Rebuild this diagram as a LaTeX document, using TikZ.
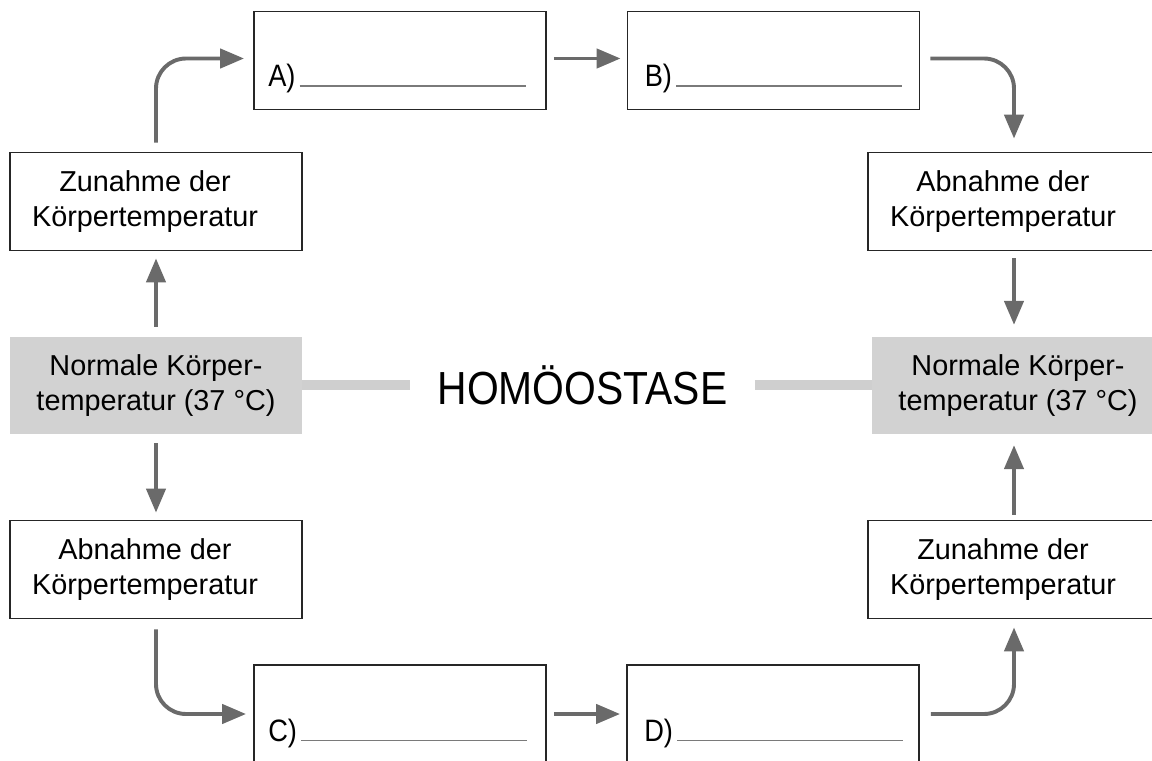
\documentclass[tikz,border=0pt]{standalone}
\usepackage{fontspec}
\setmainfont{Liberation Sans}
\usetikzlibrary{arrows.meta,calc}

\definecolor{pfeilgrau}{HTML}{6A6A6A}
\definecolor{boxgrau}{HTML}{D2D2D2}
\definecolor{liniengrau}{HTML}{CFCFCF}
\definecolor{strichgrau}{HTML}{7A7A7A}

\newcommand{\luecke}[1]{\scalebox{0.88}[1]{#1}\hspace{0.1cm}\textcolor{strichgrau}{\rule{5.65cm}{1pt}}}

\begin{document}
\begin{tikzpicture}[x=0.025cm,y=-0.025cm,
  box/.style={draw=black!85,line width=1.3pt,minimum width=7.3cm,minimum height=2.45cm,inner sep=0pt},
  txt/.style={align=center,font=\fontsize{20.5}{24.5}\selectfont,xshift=-0.275cm},
  normbox/.style={fill=boxgrau,minimum width=7.3cm,minimum height=2.42cm,inner sep=0pt,
    align=center,font=\fontsize{20.5}{25.5}\selectfont},
  blank/.style={anchor=base west,inner sep=0pt,font=\fontsize{22}{26}\selectfont},
  pfeil/.style={draw=pfeilgrau,line width=2.8pt,rounded corners=0.75cm,
    -{Triangle[length=0.6cm,width=0.48cm]}}]
\useasboundingbox (0,0) rectangle (1152,761);
\clip (0,0) rectangle (1152,761);

% linke Spalte
\node[box,label={[txt]center:Zunahme der\\Körpertemperatur}] (zuL) at (156,201.5) {};
\node[normbox] (normL) at (156,385.5) {Normale Körper-\\temperatur (37 °C)};
\node[box,label={[txt]center:Abnahme der\\Körpertemperatur}] (abL) at (156,569.5) {};

% rechte Spalte
\node[box,label={[txt]center:Abnahme der\\Körpertemperatur}] (abR) at (1014,201.5) {};
\node[normbox] (normR) at (1018,385.5) {Normale Körper-\\temperatur (37 °C)};
\node[box,label={[txt]center:Zunahme der\\Körpertemperatur}] (zuR) at (1014,569.5) {};

% Luecken oben und unten
\node[box] (A) at (400,60.5) {};
\node[box] (B) at (773.5,60.5) {};
\node[box] (C) at (400,714) {};
\node[box] (D) at (773,714) {};
\node[blank] (Alab) at ($(A.north west)+(15,76)$) {\luecke{A)}};
\node[blank] (Blab) at ($(B.north west)+(18,76)$) {\luecke{B)}};
\node[blank] (Clab) at ($(C.north west)+(15,77)$) {\luecke{C)}};
\node[blank] (Dlab) at ($(D.north west)+(18,77)$) {\luecke{D)}};

% Mitte
\node[inner xsep=0.68cm,font=\fontsize{33}{38}\selectfont] (homoe) at (582.5,385) {\scalebox{0.88}[1]{HOMÖOSTASE}};
\draw[liniengrau,line width=7pt] (normL.east |- homoe.center) -- (homoe.west);
\draw[liniengrau,line width=7pt] (homoe.east) -- (normR.west |- homoe.center);

% Regelkreis oben
\draw[pfeil] ($(normL.north)+(0,-10)$) -- ($(zuL.south)+(0,7)$);
\draw[pfeil] ($(zuL.north)+(0,-9)$) |- ($(A.west)+(-9,-2)$);
\draw[pfeil] ($(A.east)+(7,-2)$) -- ($(B.west)+(-6,-2)$);
\draw[pfeil] ($(B.east)+(10,-2)$) -| ($(abR.north)+(0,-13)$);
\draw[pfeil] ($(abR.south)+(0,7)$) -- ($(abR.south |- normR.north)+(0,-12)$);

% Regelkreis unten
\draw[pfeil] ($(normL.south)+(0,9)$) -- ($(abL.north)+(0,-7)$);
\draw[pfeil] ($(abL.south)+(0,10)$) |- ($(C.west)+(-7,0)$);
\draw[pfeil] ($(C.east)+(7,0)$) -- ($(D.west)+(-6,0)$);
\draw[pfeil] ($(D.east)+(11,0)$) -| ($(zuR.south)+(0,8)$);
\draw[pfeil] ($(zuR.north)+(0,-5)$) -- ($(zuR.north |- normR.south)+(0,11)$);
\end{tikzpicture}
\end{document}
